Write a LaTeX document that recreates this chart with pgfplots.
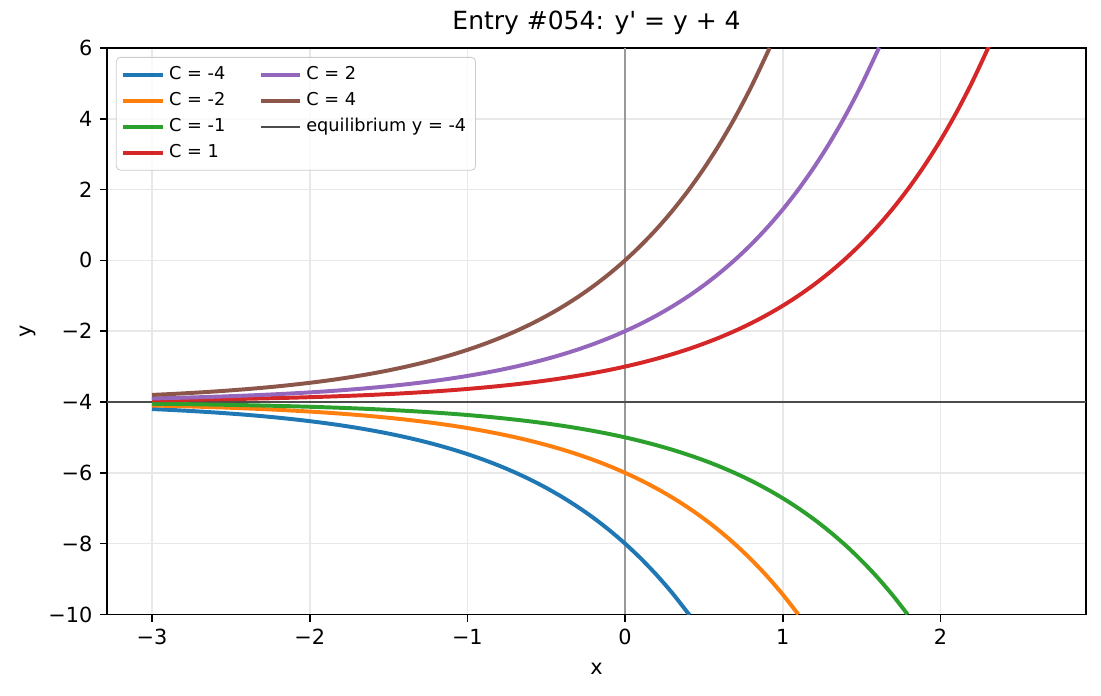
\documentclass[border=0pt]{standalone}
\usepackage{fontspec}
\setmainfont{DejaVu Sans}[Ligatures=TeXOff]
\usepackage{pgfplots}
\pgfplotsset{compat=1.18}
\definecolor{tabblue}{HTML}{1F77B4}
\definecolor{taborange}{HTML}{FF7F0E}
\definecolor{tabgreen}{HTML}{2CA02C}
\definecolor{tabred}{HTML}{D62728}
\definecolor{tabpurple}{HTML}{9467BD}
\definecolor{tabbrown}{HTML}{8C564B}
\begin{document}
\begin{tikzpicture}
\begin{axis}[
  at={(0,0)}, anchor=south west,
  scale only axis, width=470pt, height=272pt,
  xmin=-3.285, xmax=2.923, ymin=-10, ymax=6,
  xtick={-3,-2,-1,0,1,2}, xticklabels={−3,−2,−1,0,1,2},
  ytick={-10,-8,-6,-4,-2,0,2,4,6}, yticklabels={−10,−8,−6,−4,−2,0,2,4,6},
  tick pos=left, tick align=outside, major tick length=3.5pt,
  tick style={black, line width=0.8pt},
  ticklabel style={font=\fontsize{10}{12}\selectfont},
  axis line style={line width=0.8pt},
  grid=major, major grid style={line width=0.8pt, color=black!9},
  xlabel={x}, ylabel={y},
  label style={font=\fontsize{10}{12}\selectfont},
  xlabel style={yshift=-2pt},
  ylabel style={yshift=-1pt},
  title={Entry \#054: y' = y + 4},
  title style={font=\fontsize{12}{14}\selectfont, yshift=-3pt},
  legend columns=2,
  legend cell align=left,
  legend image code/.code={\draw[#1] (0pt,0pt) -- (19pt,0pt);},
  legend style={at={(0.009,0.984)}, anchor=north west, font=\fontsize{8.5}{10}\selectfont,
    draw=black!20, rounded corners=2pt, fill=white, fill opacity=0.8, text opacity=1,
    /tikz/every even column/.append style={column sep=14pt},
    row sep=0.6pt, inner sep=2.5pt},
]
\addplot[forget plot, color=black!40, line width=0.8pt] coordinates {(0,-10) (0,6)};
\addplot[forget plot, color=black!70, line width=1pt] coordinates {(-3.285,-4) (2.923,-4)};
% C = -4
\addplot[forget plot, tabblue, line width=1.9pt, smooth] coordinates {
(-3.0,-4.1991) (-2.9,-4.2201) (-2.8,-4.2432) (-2.7,-4.2688) (-2.6,-4.2971) (-2.5,-4.3283)
(-2.4,-4.3629) (-2.3,-4.4010) (-2.2,-4.4432) (-2.1,-4.4898) (-2.0,-4.5413) (-1.9,-4.5983)
(-1.8,-4.6612) (-1.7,-4.7307) (-1.6,-4.8076) (-1.5,-4.8925) (-1.4,-4.9864) (-1.3,-5.0901)
(-1.2,-5.2048) (-1.1,-5.3315) (-1.0,-5.4715) (-0.9,-5.6263) (-0.8,-5.7973) (-0.7,-5.9863)
(-0.6,-6.1952) (-0.5,-6.4261) (-0.4,-6.6813) (-0.3,-6.9633) (-0.2,-7.2749) (-0.1,-7.6193)
(0.0,-8.0) (0.1,-8.4207) (0.2,-8.8856) (0.3,-9.3994) (0.4,-9.9673) (0.4055,-10.0)};
% C = -2
\addplot[forget plot, taborange, line width=1.9pt, smooth] coordinates {
(-3.0,-4.0996) (-2.9,-4.1100) (-2.8,-4.1216) (-2.7,-4.1344) (-2.6,-4.1485) (-2.5,-4.1642)
(-2.4,-4.1814) (-2.3,-4.2005) (-2.2,-4.2216) (-2.1,-4.2449) (-2.0,-4.2707) (-1.9,-4.2991)
(-1.8,-4.3306) (-1.7,-4.3654) (-1.6,-4.4038) (-1.5,-4.4463) (-1.4,-4.4932) (-1.3,-4.5451)
(-1.2,-4.6024) (-1.1,-4.6657) (-1.0,-4.7358) (-0.9,-4.8131) (-0.8,-4.8987) (-0.7,-4.9932)
(-0.6,-5.0976) (-0.5,-5.2131) (-0.4,-5.3406) (-0.3,-5.4816) (-0.2,-5.6375) (-0.1,-5.8097)
(0.0,-6.0) (0.1,-6.2103) (0.2,-6.4428) (0.3,-6.6997) (0.4,-6.9837) (0.5,-7.2974)
(0.6,-7.6442) (0.7,-8.0275) (0.8,-8.4511) (0.9,-8.9192) (1.0,-9.4366) (1.0986,-10.0)};
% C = -1
\addplot[forget plot, tabgreen, line width=1.9pt, smooth] coordinates {
(-3.0,-4.0498) (-2.9,-4.0550) (-2.8,-4.0608) (-2.7,-4.0672) (-2.6,-4.0743) (-2.5,-4.0821)
(-2.4,-4.0907) (-2.3,-4.1003) (-2.2,-4.1108) (-2.1,-4.1225) (-2.0,-4.1353) (-1.9,-4.1496)
(-1.8,-4.1653) (-1.7,-4.1827) (-1.6,-4.2019) (-1.5,-4.2231) (-1.4,-4.2466) (-1.3,-4.2725)
(-1.2,-4.3012) (-1.1,-4.3329) (-1.0,-4.3679) (-0.9,-4.4066) (-0.8,-4.4493) (-0.7,-4.4966)
(-0.6,-4.5488) (-0.5,-4.6065) (-0.4,-4.6703) (-0.3,-4.7408) (-0.2,-4.8187) (-0.1,-4.9048)
(0.0,-5.0) (0.1,-5.1052) (0.2,-5.2214) (0.3,-5.3499) (0.4,-5.4918) (0.5,-5.6487)
(0.6,-5.8221) (0.7,-6.0138) (0.8,-6.2255) (0.9,-6.4596) (1.0,-6.7183) (1.1,-7.0042)
(1.2,-7.3201) (1.3,-7.6693) (1.4,-8.0552) (1.5,-8.4817) (1.6,-8.9530) (1.7,-9.4739)
(1.7918,-10.0)};
% C = 1
\addplot[forget plot, tabred, line width=1.9pt, smooth] coordinates {
(-3.0,-3.9502) (-2.9,-3.9450) (-2.8,-3.9392) (-2.7,-3.9328) (-2.6,-3.9257) (-2.5,-3.9179)
(-2.4,-3.9093) (-2.3,-3.8997) (-2.2,-3.8892) (-2.1,-3.8775) (-2.0,-3.8647) (-1.9,-3.8504)
(-1.8,-3.8347) (-1.7,-3.8173) (-1.6,-3.7981) (-1.5,-3.7769) (-1.4,-3.7534) (-1.3,-3.7275)
(-1.2,-3.6988) (-1.1,-3.6671) (-1.0,-3.6321) (-0.9,-3.5934) (-0.8,-3.5507) (-0.7,-3.5034)
(-0.6,-3.4512) (-0.5,-3.3935) (-0.4,-3.3297) (-0.3,-3.2592) (-0.2,-3.1813) (-0.1,-3.0952)
(0.0,-3.0) (0.1,-2.8948) (0.2,-2.7786) (0.3,-2.6501) (0.4,-2.5082) (0.5,-2.3513)
(0.6,-2.1779) (0.7,-1.9862) (0.8,-1.7745) (0.9,-1.5404) (1.0,-1.2817) (1.1,-0.9958)
(1.2,-0.6799) (1.3,-0.3307) (1.4,0.0552) (1.5,0.4817) (1.6,0.9530) (1.7,1.4739)
(1.8,2.0496) (1.9,2.6859) (2.0,3.3891) (2.1,4.1662) (2.2,5.0250) (2.3,5.9742) (2.3026,6.0)};
% C = 2
\addplot[forget plot, tabpurple, line width=1.9pt, smooth] coordinates {
(-3.0,-3.9004) (-2.9,-3.8900) (-2.8,-3.8784) (-2.7,-3.8656) (-2.6,-3.8515) (-2.5,-3.8358)
(-2.4,-3.8186) (-2.3,-3.7995) (-2.2,-3.7784) (-2.1,-3.7551) (-2.0,-3.7293) (-1.9,-3.7009)
(-1.8,-3.6694) (-1.7,-3.6346) (-1.6,-3.5962) (-1.5,-3.5537) (-1.4,-3.5068) (-1.3,-3.4549)
(-1.2,-3.3976) (-1.1,-3.3343) (-1.0,-3.2642) (-0.9,-3.1869) (-0.8,-3.1013) (-0.7,-3.0068)
(-0.6,-2.9024) (-0.5,-2.7869) (-0.4,-2.6594) (-0.3,-2.5184) (-0.2,-2.3625) (-0.1,-2.1903)
(0.0,-2.0) (0.1,-1.7897) (0.2,-1.5572) (0.3,-1.3003) (0.4,-1.0164) (0.5,-0.7026)
(0.6,-0.3558) (0.7,0.0275) (0.8,0.4511) (0.9,0.9192) (1.0,1.4366) (1.1,2.0083)
(1.2,2.6402) (1.3,3.3386) (1.4,4.1104) (1.5,4.9634) (1.6,5.9061) (1.6094,6.0)};
% C = 4
\addplot[forget plot, tabbrown, line width=1.9pt, smooth] coordinates {
(-3.0,-3.8009) (-2.9,-3.7799) (-2.8,-3.7568) (-2.7,-3.7312) (-2.6,-3.7029) (-2.5,-3.6717)
(-2.4,-3.6371) (-2.3,-3.5990) (-2.2,-3.5568) (-2.1,-3.5102) (-2.0,-3.4587) (-1.9,-3.4017)
(-1.8,-3.3388) (-1.7,-3.2693) (-1.6,-3.1924) (-1.5,-3.1075) (-1.4,-3.0136) (-1.3,-2.9099)
(-1.2,-2.7952) (-1.1,-2.6685) (-1.0,-2.5285) (-0.9,-2.3737) (-0.8,-2.2027) (-0.7,-2.0137)
(-0.6,-1.8048) (-0.5,-1.5739) (-0.4,-1.3187) (-0.3,-1.0367) (-0.2,-0.7251) (-0.1,-0.3807)
(0.0,0.0) (0.1,0.4207) (0.2,0.8856) (0.3,1.3994) (0.4,1.9673) (0.5,2.5949)
(0.6,3.2885) (0.7,4.0550) (0.8,4.9022) (0.9,5.8384) (0.9163,6.0)};
% legend in matplotlib column-major order
\addlegendimage{tabblue, line width=1.9pt}
\addlegendentry{C = -4}
\addlegendimage{tabpurple, line width=1.9pt}
\addlegendentry{C = 2}
\addlegendimage{taborange, line width=1.9pt}
\addlegendentry{C = -2}
\addlegendimage{tabbrown, line width=1.9pt}
\addlegendentry{C = 4}
\addlegendimage{tabgreen, line width=1.9pt}
\addlegendentry{C = -1}
\addlegendimage{black!70, line width=1pt}
\addlegendentry{equilibrium y = -4}
\addlegendimage{tabred, line width=1.9pt}
\addlegendentry{C = 1}
\end{axis}
\pgfresetboundingbox
\path (-51.4pt,-38.9pt) rectangle (477.2pt,295pt);
\end{tikzpicture}
\end{document}
